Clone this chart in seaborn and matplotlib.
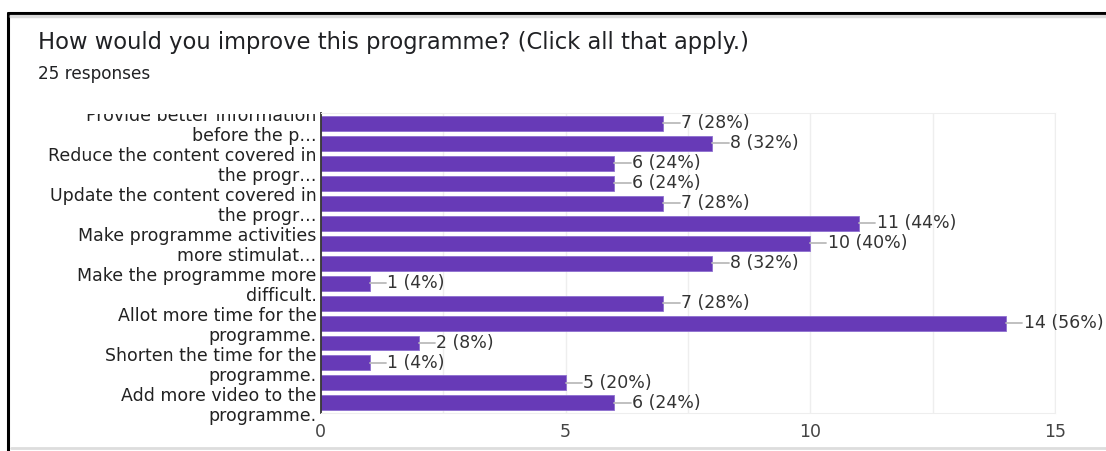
import matplotlib
matplotlib.use("Agg")
import matplotlib.pyplot as plt
import seaborn as sns
import pandas as pd
from matplotlib.lines import Line2D
from matplotlib.transforms import Bbox, TransformedBbox

# Data
categories = [
    "Provide better information before the programme.",
    "Provide more practical examples.",
    "Reduce the content covered in the programme.",
    "Add more group discussion.",
    "Update the content covered in the programme.",
    "Provide more hands-on activities.",
    "Make programme activities more stimulating.",
    "Make the programme more interactive.",
    "Make the programme more difficult.",
    "Make the programme easier.",
    "Allot more time for the programme.",
    "Provide more handouts.",
    "Shorten the time for the programme.",
    "Add more reading material.",
    "Add more video to the programme.",
]
tick_labels = [
    "Provide better information\nbefore the p\u2026", "",
    "Reduce the content covered in\nthe progr\u2026", "",
    "Update the content covered in\nthe progr\u2026", "",
    "Make programme activities\nmore stimulat\u2026", "",
    "Make the programme more\ndifficult.", "",
    "Allot more time for the\nprogramme.", "",
    "Shorten the time for the\nprogramme.", "",
    "Add more video to the\nprogramme.",
]
counts = [7, 8, 6, 6, 7, 11, 10, 8, 1, 7, 14, 2, 1, 5, 6]
total = 25
x_ticks = [0, 5, 10, 15]

df = pd.DataFrame({"option": categories, "count": counts})

sns.set_style("white")
plt.rcParams["font.family"] = ["DejaVu Sans"]

fig = plt.figure(figsize=(11.06, 4.51), dpi=100)
ax = fig.add_axes([0.290, 0.0843, 0.664, 0.665])

sns.barplot(data=df, x="count", y="option", orient="h", color="#673ab7",
            saturation=1, width=0.75, edgecolor="#8e6fd0", linewidth=0.6, ax=ax)

ax.set_xlim(0, 15)
ax.set_ylim(len(categories) - 0.5, -0.5)
ax.set_xticks(x_ticks)
ax.set_xticks([2.5, 7.5, 12.5], minor=True)
ax.grid(axis="x", which="both", color="#eeeeee", linewidth=1)
ax.set_axisbelow(True)
ax.tick_params(axis="x", which="both", length=0, pad=7, labelsize=12.5, labelcolor="#444444")
ax.tick_params(axis="y", length=0, pad=3, labelsize=12.5, labelcolor="#222222")
ax.set_yticks(range(len(categories)))
ax.set_yticklabels(tick_labels, linespacing=1.15)
ax.set_xlabel("")
ax.set_ylabel("")
for side in ["top", "right", "bottom"]:
    ax.spines[side].set_color("#eeeeee")
ax.spines["left"].set_color("#333333")
ax.spines["left"].set_linewidth(1.3)

# clip the first label at the top of the plot area like the screenshot
clip = TransformedBbox(Bbox([[0, 0], [1, 0.7494 - 0.003]]), fig.transFigure)
for lbl in ax.get_yticklabels():
    lbl.set_clip_box(clip)
    lbl.set_clip_on(True)

# value labels with short leader lines
for i, c in enumerate(counts):
    ax.plot([c, c + 0.33], [i, i], color="#bbbbbb", linewidth=1.3, clip_on=False)
    ax.text(c + 0.36, i, f"{c} ({round(c / total * 100)}%)", va="center", ha="left",
            fontsize=12.5, color="#333333", clip_on=False)

fig.text(0.034, 0.905, "How would you improve this programme? (Click all that apply.)",
         fontsize=16.3, color="#202124", va="center")
fig.text(0.034, 0.835, "25 responses", fontsize=12.2, color="#202124", va="center")

# screenshot frame
fig.add_artist(Line2D([0.007, 1.0], [0.972, 0.972], color="black", linewidth=2.2))
fig.add_artist(Line2D([0.0075, 0.0075], [0.0, 0.972], color="black", linewidth=2.2))
fig.add_artist(Line2D([0.009, 1.0], [0.964, 0.964], color="#bbbbbb", linewidth=2.5, alpha=0.5))
fig.add_artist(Line2D([0.01, 1.0], [0.006, 0.006], color="#dddddd", linewidth=2))

fig.savefig("out.png", dpi=100)
